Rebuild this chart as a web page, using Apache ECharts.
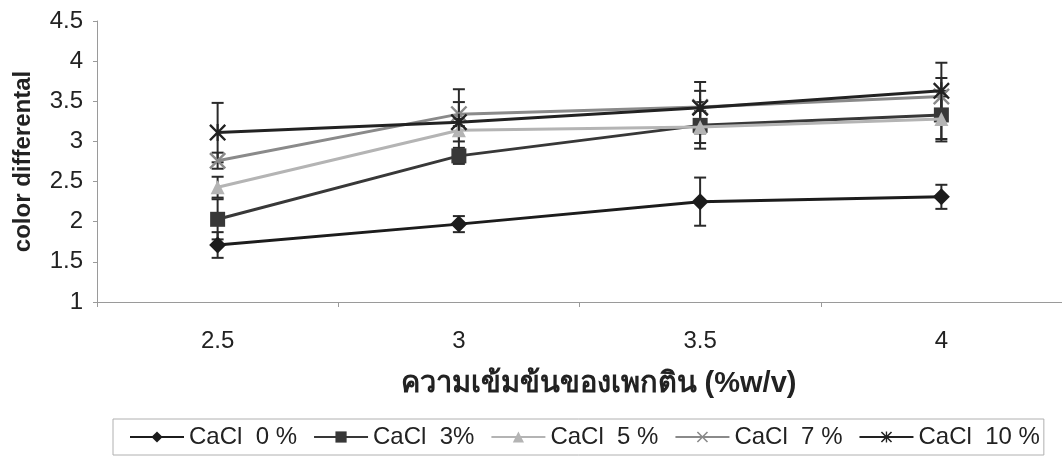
<!DOCTYPE html>
<html><head><meta charset="utf-8">
<script src="https://cdn.jsdelivr.net/npm/echarts@6/dist/echarts.min.js"></script>
<style>html,body{margin:0;padding:0;background:#fff}#c{width:1062px;height:464px}</style>
</head><body><div id="c"></div>
<script>
var categories = ['2.5', '3', '3.5', '4'];
var seriesNames = ['CaCl  0 %', 'CaCl  3%', 'CaCl  5 %', 'CaCl  7 %', 'CaCl  10 %'];
var ca0 = [1.71, 1.97, 2.25, 2.31];
var ca3 = [2.03, 2.82, 3.20, 3.33];
var ca5 = [2.43, 3.14, 3.18, 3.28];
var ca7 = [2.76, 3.34, 3.43, 3.56];
var ca10 = [3.11, 3.24, 3.42, 3.63];
var err0 = [0.16, 0.10, 0.30, 0.15];
var err3 = [0.25, 0.10, 0.29, 0.30];
var err5 = [0.13, 0.14, 0.20, 0.28];
var err7 = [0.10, 0.15, 0.20, 0.23];
var err10 = [0.37, 0.41, 0.32, 0.35];
var yTicks = { min: 1, max: 4.5, step: 0.5 };

var FONT = 'Liberation Sans, Arial, DejaVu Sans, Noto Sans, sans-serif';
var colors = ['#1c1c1c', '#383838', '#b4b4b4', '#8a8a8a', '#222222'];
var xPath = 'path://M0,1 L1,0 L5,4 L9,0 L10,1 L6,5 L10,9 L9,10 L5,6 L1,10 L0,9 L4,5 Z';
var starPath = 'path://M0,1 L1,0 L5,4 L9,0 L10,1 L6,5 L10,9 L9,10 L5,6 L1,10 L0,9 L4,5 Z M4.4,0 L5.6,0 L5.6,10 L4.4,10 Z';
var symbols = ['diamond', 'rect', 'triangle', xPath, starPath];
var symSizes = [17, 15, 14, 17, 17];
var values = [ca0, ca3, ca5, ca7, ca10];
var errs = [err0, err3, err5, err7, err10];

var series = [];
values.forEach(function (vals, i) {
  var d = vals.map(function (v, k) { return [k, v - errs[i][k], v + errs[i][k]]; });
  series.push({
    type: 'custom', name: seriesNames[i] + ' err', z: 1, silent: true,
    renderItem: function (params, api) {
      var lo = api.coord([api.value(0), api.value(1)]);
      var hi = api.coord([api.value(0), api.value(2)]);
      var w = 6;
      var st = { stroke: '#2a2a2a', lineWidth: 2 };
      return { type: 'group', children: [
        { type: 'line', shape: { x1: lo[0], y1: lo[1], x2: hi[0], y2: hi[1] }, style: st },
        { type: 'line', shape: { x1: lo[0] - w, y1: lo[1], x2: lo[0] + w, y2: lo[1] }, style: st },
        { type: 'line', shape: { x1: hi[0] - w, y1: hi[1], x2: hi[0] + w, y2: hi[1] }, style: st }
      ] };
    },
    data: d
  });
});
values.forEach(function (vals, i) {
  series.push({
    type: 'line', name: seriesNames[i], data: vals, z: 3 + i,
    symbol: symbols[i], symbolSize: symSizes[i], showSymbol: true,
    lineStyle: { color: colors[i], width: 3 },
    itemStyle: { color: colors[i] },
    emphasis: { disabled: true }
  });
});

var chart = echarts.init(document.getElementById('c'), null, { renderer: 'canvas' });
chart.setOption({
  animation: false,
  backgroundColor: '#fff',
  textStyle: { fontFamily: FONT },
  grid: { left: 97, top: 21, width: 968, bottom: 162, containLabel: false },
  xAxis: {
    type: 'category', data: categories, boundaryGap: true,
    name: 'ความเข้มข้นของเพกติน (%w/v)', nameLocation: 'middle', nameGap: 67,
    nameTextStyle: { fontFamily: FONT, fontSize: 29, fontWeight: 'bold', color: '#222', padding: [0, 0, 0, 38] },
    axisLine: { lineStyle: { color: '#9a9a9a', width: 1 } },
    axisTick: { show: true, length: 5, lineStyle: { color: '#9a9a9a' } },
    axisLabel: { fontFamily: FONT, fontSize: 24, color: '#222', margin: 27 },
    splitLine: { show: false }
  },
  yAxis: {
    type: 'value', min: yTicks.min, max: yTicks.max, interval: yTicks.step,
    name: 'color differental', nameLocation: 'middle', nameGap: 62, nameRotate: 90,
    nameTextStyle: { fontFamily: FONT, fontSize: 24, fontWeight: 'bold', color: '#222' },
    axisLine: { show: true, lineStyle: { color: '#9a9a9a', width: 1 } },
    axisTick: { show: true, length: 4, lineStyle: { color: '#9a9a9a' } },
    axisLabel: { fontFamily: FONT, fontSize: 24, color: '#222', margin: 14 },
    splitLine: { show: false }
  },
  legend: {
    data: seriesNames, top: 419, left: 113,
    orient: 'horizontal', itemWidth: 54, itemHeight: 14, itemGap: 16,
    borderColor: '#b0b0b0', borderWidth: 1, padding: [6, 4, 6, 16],
    textStyle: { fontFamily: FONT, fontSize: 24, color: '#222' }
  },
  series: series
});
</script></body></html>
